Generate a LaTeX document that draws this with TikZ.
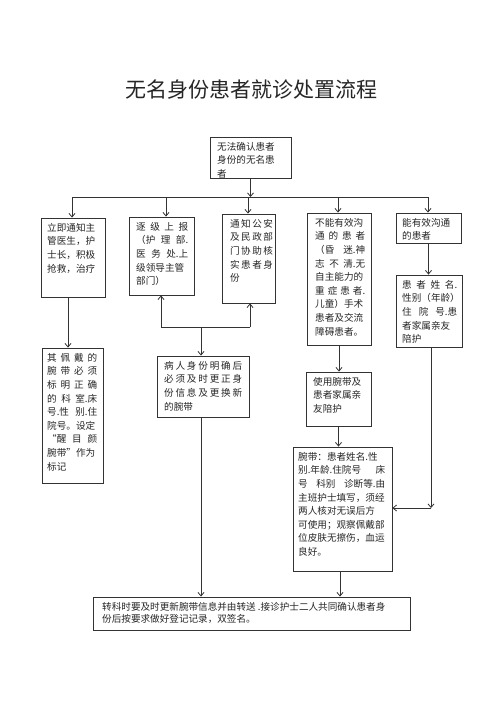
\documentclass[tikz,border=0pt]{standalone}
\usepackage{fontspec}
\newfontfamily\cjk{Noto Sans CJK SC}
\usetikzlibrary{arrows.meta}
\newcommand\jl[2]{\makebox[#1pt][s]{#2}}
\tikzset{
  box/.style={draw=black!80, line width=0.9pt, inner sep=0pt},
  txt/.style={anchor=north west, inner sep=0pt, align=left, font=\cjk\fontsize{9.6}{13.6}\selectfont, text=black!85},
  conn/.style={draw=black!80, line width=0.8pt},
  arr/.style={conn, -{Straight Barb[length=3.5pt,width=6pt]}}
}
\begin{document}
\begin{tikzpicture}[x=1pt,y=-1pt]
\path[use as bounding box, fill=white] (0,0) rectangle (500,707);
\node[font=\cjk\fontsize{21}{21}\selectfont, text=black!85] (title) at (251,90) {无名身份患者就诊处置流程};

% boxes
\node[box, minimum width=81pt, minimum height=41pt] (b0) at (250.5,157.5) {};
\node[box, minimum width=64pt, minimum height=79pt] (b1) at (73,257.5) {};
\node[box, minimum width=65pt, minimum height=78pt] (b2) at (161.5,256) {};
\node[box, minimum width=53pt, minimum height=89pt] (b3) at (248.5,258.5) {};
\node[box, minimum width=64pt, minimum height=132pt] (b4) at (339,279) {};
\node[box, minimum width=65pt, minimum height=30pt] (b5) at (428.5,228) {};
\node[box, minimum width=66pt, minimum height=72pt] (b6) at (429,311) {};
\node[box, minimum width=61pt, minimum height=135pt] (b7) at (72.5,415.5) {};
\node[box, minimum width=92pt, minimum height=61pt] (b8) at (203,386.5) {};
\node[box, minimum width=65pt, minimum height=54pt] (b9) at (338.5,399) {};
\node[box, minimum width=99pt, minimum height=124pt] (b10) at (342.5,509) {};
\node[box, minimum width=317pt, minimum height=33pt] (bf) at (251.5,613.5) {};

% texts
\node[txt] (t0) at (217,142) {\jl{55}{无法确认患者}\\\jl{55}{身份的无名患}\\者};
\node[txt] (t1) at (47,223) {\jl{48}{立即通知主}\\\jl{48}{管医生，护}\\\jl{48}{士长，积极}\\\jl{48}{抢救，治疗}};
\node[txt] (t2) at (136,222) {\jl{52}{逐 级 上 报}\\\jl{52}{（护 理 部.}\\\jl{52}{医 务 处.上}\\\jl{52}{级领导主管}\\部门）};
\node[txt] (t3) at (230,219) {\jl{42}{通 知 公 安}\\\jl{42}{及 民 政 部}\\\jl{42}{门 协 助 核}\\\jl{42}{实 患 者 身}\\份};
\node[txt] (t4) at (315,218) {\jl{50}{不能有效沟}\\\jl{50}{通 的 患 者}\\\jl{50}{（昏 迷.神}\\\jl{50}{志 不 清.无}\\\jl{50}{自主能力的}\\\jl{50}{重 症 患 者.}\\\jl{50}{儿童）手术}\\\jl{50}{患者及交流}\\障碍患者。};
\node[txt] (t5) at (402,218) {\jl{55}{能有效沟通}\\的患者};
\node[txt] (t6) at (402,280) {\jl{55}{患 者 姓 名.}\\\jl{55}{性别（年龄）}\\\jl{55}{住 院 号.患}\\\jl{55}{者家属亲友}\\陪护};
\node[txt] (t7) at (47,353) {\jl{50}{其 佩 戴 的}\\\jl{50}{腕 带 必 须}\\\jl{50}{标 明 正 确}\\\jl{50}{的 科 室.床}\\\jl{50}{号.性 别.住}\\\jl{50}{院号。设定}\\\jl{50}{“醒 目 颜}\\\jl{50}{腕带”作为}\\标记};
\node[txt] (t8) at (164,361) {\jl{78}{病 人 身 份 明 确 后}\\\jl{78}{必 须 及 时 更 正 身}\\\jl{78}{份 信 息 及 更 换 新}\\的腕带};
\node[txt] (t9) at (313,377) {\jl{50}{使用腕带及}\\\jl{50}{患者家属亲}\\友陪护};
\node[txt] (t10) at (298,452) {\jl{87}{腕带：患者姓名.性}\\\jl{87}{别.年龄.住院号 床}\\\jl{87}{号 科别 诊断等.由}\\\jl{87}{主班护士填写，须经}\\\jl{87}{两人核对无误后方}\\\jl{87}{可使用；观察佩戴部}\\\jl{87}{位皮肤无擦伤，血运}\\良好。};
\node[txt, font=\cjk\fontsize{9.6}{12.5}\selectfont] (tf) at (102,602) {转科时要及时更新腕带信息并由转送 .接诊护士二人共同确认患者身\\份后按要求做好登记记录，双签名。};

% connectors
\coordinate (h) at (250.5,197);
\coordinate (hl) at (72,197);
\coordinate (hr) at (428,197);
\coordinate (c2) at (166,197);
\coordinate (c3) at (248,197);
\coordinate (c4) at (338,197);
\draw[arr] (b0.south) -- (h);
\draw[conn] (hl) -- (hr);
\draw[arr] (hl) -- (hl |- b1.north);
\draw[arr] (c2) -- (c2 |- b2.north);
\draw[arr] (c3) -- (c3 |- b3.north);
\draw[arr] (c4) -- (c4 |- b4.north);
\draw[arr] (hr) -- (hr |- b5.north);

\coordinate (d1) at (68,0);
\draw[arr] (b1.south -| d1) -- (b7.north -| d1);

\coordinate (j) at (201,327);
\coordinate (jl) at (161,327);
\coordinate (jr) at (250,327);
\draw[conn] (jl) -- (jr);
\draw[arr] (jl) -- (jl |- b2.south);
\draw[arr] (jr) -- (jr |- b3.south);
\draw[arr] (j) -- (j |- b8.north);
\draw[arr] (b8.south -| j) -- (bf.north -| j);

\draw[arr] (b4.south) -- (b4.south |- b9.north);
\draw[arr] (b9.south) -- (b9.south |- b10.north);
\coordinate (d4) at (340,0);
\draw[arr] (b10.south -| d4) -- (bf.north -| d4);

\draw[arr] (b5.south) -- (b5.south |- b6.north);
\coordinate (k) at (431,508);
\draw[arr] (b6.south -| k) -- (k);
\draw[arr] (k) -- (k -| b10.east);
\end{tikzpicture}
\end{document}
